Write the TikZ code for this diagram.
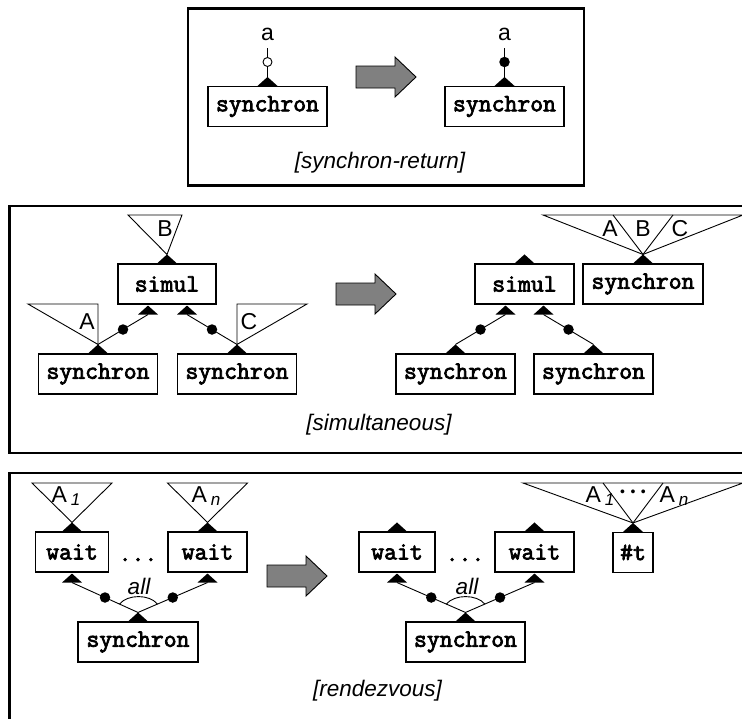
\documentclass[tikz,border=0pt]{standalone}
\usepackage{fontspec}
\setmainfont{Liberation Sans}
\newfontfamily\monob[FakeBold=3]{Latin Modern Mono}
\usetikzlibrary{calc}
\begin{document}
\begin{tikzpicture}[x=1pt,y=-1pt,
  box/.style={draw, line width=1.1pt, minimum height=40pt, inner sep=0pt, font=\monob\fontsize{25}{26}\selectfont},
  monotext/.style={inner sep=0pt, font=\monob\fontsize{25}{26}\selectfont},
  frameline/.style={draw, line width=2.4pt},
  thinline/.style={line width=0.9pt},
  lbl/.style={inner sep=0pt, font=\fontsize{23}{24}\selectfont},
  captext/.style={inner sep=0pt, font=\itshape\fontsize{22.5}{24}\selectfont},
  blackdot/.style={circle, fill=black, minimum size=10.5pt, inner sep=0pt},
  opendot/.style={circle, draw, line width=0.9pt, fill=white, minimum size=9pt, inner sep=0pt},
  port/.pic={\fill (-10,0) -- (10,0) -- (0,-9) -- cycle;},
  bigarrow/.pic={\draw[line width=0.9pt, fill=black!50] (0,-11) -- (39,-11) -- (39,-20) -- (60,0) -- (39,20) -- (39,11) -- (0,11) -- cycle;}
]
\useasboundingbox (0,0) rectangle (742,718);

% ---------------- frames
\draw[frameline] (188,8.5) rectangle (584,185.5);
\draw[frameline] (9.5,206) rectangle (770,453);
\draw[frameline] (9.5,473) rectangle (770,740);

% ---------------- frame 1: synchron-return
\node[box, minimum width=119pt] (s1L) at (267.5,106.5) {synchron};
\node[box, minimum width=119pt] (s1R) at (504.5,106.5) {synchron};
\pic at (s1L.north) {port};
\pic at (s1R.north) {port};
\coordinate (s1Lp) at ($(s1L.north)+(0,-9)$);
\coordinate (s1Rp) at ($(s1R.north)+(0,-9)$);
\coordinate (aLend) at (267.5,48);
\coordinate (aRend) at (504.5,48);
\node[lbl] (aL) at (267.5,34) {a};
\node[lbl] (aR) at (504.5,34) {a};
\draw[thinline] (s1Lp) -- (aLend);
\draw[thinline] (s1Rp) -- (aRend);
\node[opendot] (oL) at (267.5,62) {};
\node[blackdot] (cR) at (504.5,62) {};
\pic at (356,77) {bigarrow};
\node[captext] (cap1) at (380,163) {[synchron-return]};

% ---------------- frame 2: simultaneous (left)
\node[box, minimum width=98pt] (simL) at (167,284) {simul};
\node[box, minimum width=119pt] (syL1) at (98,374) {synchron};
\node[box, minimum width=119pt] (syL2) at (237,374) {synchron};
\pic at (simL.north) {port};
\pic at ($(simL.south)+(-19,10)$) {port};
\pic at ($(simL.south)+(20,10)$) {port};
\pic at (syL1.north) {port};
\pic at (syL2.north) {port};
\coordinate (simLt) at ($(simL.north)+(0,-9)$);
\coordinate (simLb1) at ($(simL.south)+(-19,10)$);
\coordinate (simLb2) at ($(simL.south)+(20,10)$);
\coordinate (syL1t) at ($(syL1.north)+(0,-9)$);
\coordinate (syL2t) at ($(syL2.north)+(0,-9)$);
\draw[thinline] (simLt) -- (128,215) -- (182,215) -- cycle;
\draw[thinline] (syL1t) -- (28,304) -- (98,304) -- cycle;
\draw[thinline] (syL2t) -- (307,304) -- (237,304) -- cycle;
\node[lbl] (lB) at (165,229) {B};
\node[lbl] (lA) at (87,322) {A};
\node[lbl] (lC) at (249,322) {C};
\draw[thinline] (syL1t) -- (simLb1);
\draw[thinline] (syL2t) -- (simLb2);
\node[blackdot] (dL1) at ($(syL1t)!0.5!(simLb1)$) {};
\node[blackdot] (dL2) at ($(syL2t)!0.5!(simLb2)$) {};
\pic at (336,294) {bigarrow};

% ---------------- frame 2 (right)
\node[box, minimum width=99pt] (simR) at (524.5,284) {simul};
\node[box, minimum width=120pt] (syR0) at (643,284) {synchron};
\node[box, minimum width=119pt] (syR1) at (455.5,374) {synchron};
\node[box, minimum width=119pt] (syR2) at (593.5,374) {synchron};
\pic at (simR.north) {port};
\pic at ($(simR.south)+(-19,10)$) {port};
\pic at ($(simR.south)+(19,10)$) {port};
\pic at (syR0.north) {port};
\pic at (syR1.north) {port};
\pic at (syR2.north) {port};
\coordinate (simRb1) at ($(simR.south)+(-19,10)$);
\coordinate (simRb2) at ($(simR.south)+(19,10)$);
\coordinate (syR0t) at ($(syR0.north)+(0,-9)$);
\coordinate (syR1t) at ($(syR1.north)+(0,-9)$);
\coordinate (syR2t) at ($(syR2.north)+(0,-9)$);
\draw[thinline] (syR0t) -- (543,215) -- (743,215) -- cycle;
\draw[thinline] (syR0t) -- (613,215);
\draw[thinline] (syR0t) -- (673,215);
\node[lbl] (rA) at (610,229) {A};
\node[lbl] (rB) at (643,229) {B};
\node[lbl] (rC) at (680,229) {C};
\draw[thinline] (syR1t) -- (simRb1);
\draw[thinline] (syR2t) -- (simRb2);
\node[blackdot] (dR1) at ($(syR1t)!0.5!(simRb1)$) {};
\node[blackdot] (dR2) at ($(syR2t)!0.5!(simRb2)$) {};
\node[captext] (cap2) at (379,425) {[simultaneous]};

% ---------------- frame 3: rendezvous (left)
\node[box, minimum width=73pt] (wL1) at (72,552) {wait};
\node[box, minimum width=79pt] (wL2) at (207.5,552) {wait};
\node[monotext, anchor=base] (ellL) at (138,561) {...};
\node[box, minimum width=120pt] (syL3) at (138,642) {synchron};
\pic at (wL1.north) {port};
\pic at (wL2.north) {port};
\pic at ($(wL1.south)+(0,10)$) {port};
\pic at ($(wL2.south)+(0,10)$) {port};
\pic at (syL3.north) {port};
\coordinate (wL1t) at ($(wL1.north)+(0,-9)$);
\coordinate (wL2t) at ($(wL2.north)+(0,-9)$);
\coordinate (wL1b) at ($(wL1.south)+(0,10)$);
\coordinate (wL2b) at ($(wL2.south)+(0,10)$);
\coordinate (syL3t) at ($(syL3.north)+(0,-9)$);
\draw[thinline] (wL1t) -- (32,483) -- (112,483) -- cycle;
\draw[thinline] (wL2t) -- (167.5,483) -- (247.5,483) -- cycle;
\node[lbl] (lA1) at (66,496) {A\,\raisebox{-3pt}{\itshape\fontsize{17}{17}\selectfont 1}};
\node[lbl] (lAn) at (206,496) {A\,\raisebox{-3pt}{\itshape\fontsize{17}{17}\selectfont n}};
\draw[thinline] (wL1b) -- (syL3t) -- (wL2b);
\node[blackdot] (dL3) at ($(wL1b)!0.5!(syL3t)$) {};
\node[blackdot] (dL4) at ($(wL2b)!0.5!(syL3t)$) {};
\coordinate (allL1) at ($(wL1b)!0.72!(syL3t)$);
\coordinate (allL2) at ($(wL2b)!0.72!(syL3t)$);
\draw[thinline] (allL1) .. controls ($(allL1)+(8,-10)$) and ($(allL2)+(-8,-10)$) .. (allL2);
\node[captext] (allL) at (139,586) {all};
\pic at (267,576) {bigarrow};

% ---------------- frame 3 (right)
\node[box, minimum width=76pt] (wR1) at (397,552) {wait};
\node[box, minimum width=79pt] (wR2) at (534.5,552) {wait};
\node[box, minimum width=40pt] (tR) at (633,552.5) {\#t};
\node[monotext, anchor=base] (ellR) at (465,561) {...};
\node[box, minimum width=119pt] (syR3) at (465.5,642) {synchron};
\pic at (wR1.north) {port};
\pic at (wR2.north) {port};
\pic at (tR.north) {port};
\pic at ($(wR1.south)+(0,10)$) {port};
\pic at ($(wR2.south)+(0,10)$) {port};
\pic at (syR3.north) {port};
\coordinate (tRt) at ($(tR.north)+(0,-9)$);
\coordinate (wR1b) at ($(wR1.south)+(0,10)$);
\coordinate (wR2b) at ($(wR2.south)+(0,10)$);
\coordinate (syR3t) at ($(syR3.north)+(0,-9)$);
\draw[thinline] (tRt) -- (523,483) -- (743,483) -- cycle;
\draw[thinline] (tRt) -- (603,483);
\draw[thinline] (tRt) -- (663,483);
\node[lbl] (rA1) at (600,496) {A\,\raisebox{-3pt}{\itshape\fontsize{17}{17}\selectfont 1}};
\node[lbl] (rAn) at (674,496) {A\,\raisebox{-3pt}{\itshape\fontsize{17}{17}\selectfont n}};
\node[lbl, font=\fontsize{14}{14}\selectfont] (rdots) at (633,493) {•\hspace{5.5pt}•\hspace{5.5pt}•};
\draw[thinline] (wR1b) -- (syR3t) -- (wR2b);
\node[blackdot] (dR3) at ($(wR1b)!0.5!(syR3t)$) {};
\node[blackdot] (dR4) at ($(wR2b)!0.5!(syR3t)$) {};
\coordinate (allR1) at ($(wR1b)!0.72!(syR3t)$);
\coordinate (allR2) at ($(wR2b)!0.72!(syR3t)$);
\draw[thinline] (allR1) .. controls ($(allR1)+(8,-10)$) and ($(allR2)+(-8,-10)$) .. (allR2);
\node[captext] (allR) at (467,586) {all};
\node[captext] (cap3) at (377.5,691) {[rendezvous]};
\end{tikzpicture}
\end{document}
